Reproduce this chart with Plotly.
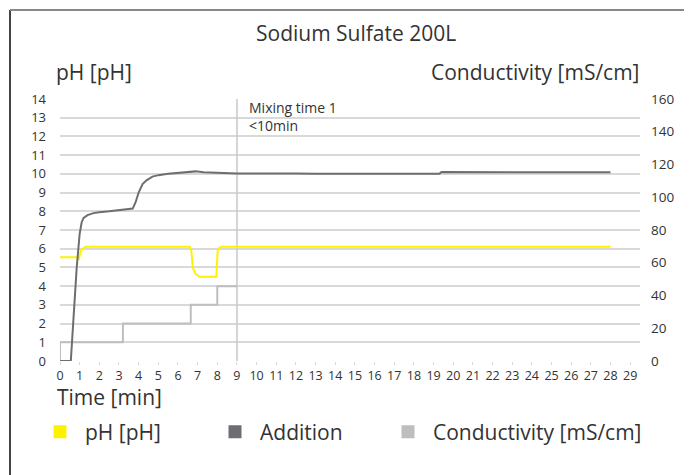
import plotly.graph_objects as go

# Colours
COLOR_YELLOW = "#FFF200"
COLOR_DARK = "#6D6E71"
COLOR_LIGHT = "#BCBEC0"
COLOR_GRID = "#D9D9D9"
COLOR_TEXT = "#333333"
FONT = "Open Sans"

# pH [pH] (left axis)
ph_time = [0, 0.9, 0.95, 1.05, 1.15, 1.3, 6.6, 6.68, 6.75, 6.9, 7.1, 7.95, 8.02, 8.1, 8.25, 28]
ph_value = [5.55, 5.55, 5.4, 5.85, 6.0, 6.1, 6.1, 5.9, 5.0, 4.65, 4.5, 4.5, 5.9, 6.05, 6.1, 6.1]

# Conductivity [mS/cm] (right axis, dark curve)
cond_time = [0, 0.55, 0.7, 0.85, 1.0, 1.1, 1.2, 1.4, 1.7, 2.0, 2.5, 3.0, 3.5, 3.7, 3.85,
             4.0, 4.2, 4.4, 4.7, 5.0, 5.5, 6.0, 6.5, 6.9, 7.3, 8.0, 9.0, 12.0, 13.0,
             19.3, 19.4, 28]
cond_value = [0, 0, 28.6, 57.1, 77.7, 84.6, 87.4, 89.1, 90.3, 90.9, 91.4, 92.0, 92.6, 93.1, 97.1,
              102.9, 108.0, 110.3, 112.6, 113.5, 114.3, 114.9, 115.4, 115.8, 115.2, 114.9, 114.5,
              114.5, 114.3, 114.3, 115.4, 115.2]

# Addition steps (left axis, light step line)
add_time = [0, 0, 3.2, 6.65, 8.0, 9.0]
add_value = [0, 1, 2, 3, 4, 4]

# Mixing time marker
mix_time = 9
mix_label = "Mixing time 1<br><10min"

legend_names = ["pH [pH]", "Addition", "Conductivity [mS/cm]"]
legend_colors = [COLOR_YELLOW, COLOR_DARK, COLOR_LIGHT]
legend_left = [35, 210, 383]   # window px where each legend entry starts

# page body has an 8px margin, so the figure is drawn 8px in from the window
OFF = 8
W, H = 692 - OFF, 475 - OFF
L, R, T, B = 52, 52, 91, 114
pw, ph = W - L - R, H - T - B


def px(x):
    # window pixel -> paper x
    return (x - OFF - L) / pw


def py(y):
    # window pixel -> paper y
    return (H - B - (y - OFF)) / ph


fig = go.Figure()

# mixing time vertical line
fig.add_trace(go.Scatter(
    x=[mix_time, mix_time], y=[0, 14], mode="lines",
    line=dict(color="#C8C8C8", width=1.5), showlegend=False, hoverinfo="skip"
))

fig.add_trace(go.Scatter(
    x=add_time, y=add_value, mode="lines", line_shape="hv",
    line=dict(color=COLOR_LIGHT, width=2), showlegend=False
))

fig.add_trace(go.Scatter(
    x=cond_time, y=cond_value, mode="lines", yaxis="y2",
    line=dict(color=COLOR_DARK, width=2), showlegend=False
))

fig.add_trace(go.Scatter(
    x=ph_time, y=ph_value, mode="lines",
    line=dict(color=COLOR_YELLOW, width=2), showlegend=False
))

# legend entries as square markers, one legend box each
legend_layout = {}
for i, (name, color, left) in enumerate(zip(legend_names, legend_colors, legend_left)):
    key = "legend" if i == 0 else f"legend{i + 1}"
    fig.add_trace(go.Scatter(
        x=[None], y=[None], mode="markers", name=name, legend=key,
        marker=dict(symbol="square", size=13, color=color)
    ))
    legend_layout[key] = dict(
        orientation="h", xref="container", yref="container",
        x=(left - OFF) / W, y=1 - (432 - OFF) / H, xanchor="left", yanchor="middle",
        itemwidth=40, font=dict(size=21, color=COLOR_TEXT, family=FONT),
        bgcolor="rgba(0,0,0,0)"
    )

fig.add_annotation(
    x=mix_time, y=14, xref="x", yref="y", text=mix_label,
    showarrow=False, xanchor="left", yanchor="top", align="left",
    xshift=10, yshift=3, font=dict(size=14, color=COLOR_TEXT, family=FONT)
)

for text, x, y, anchor in [
    ("Sodium Sulfate 200L", 356, 33, "center"),
    ("pH [pH]", 54, 72, "left"),
    ("Conductivity [mS/cm]", 641, 72, "right"),
    ("Time [min]", 55, 397, "left"),
]:
    fig.add_annotation(
        x=px(x), y=py(y), xref="paper", yref="paper", text=text,
        showarrow=False, xanchor=anchor, yanchor="middle",
        font=dict(size=21, color=COLOR_TEXT, family=FONT)
    )

# outer frame
fig.add_shape(type="line", xref="paper", yref="paper",
              x0=px(10), x1=px(10), y0=py(10), y1=py(480),
              line=dict(color="#444444", width=2))
fig.add_shape(type="line", xref="paper", yref="paper",
              x0=px(10), x1=px(700), y0=py(10), y1=py(10),
              line=dict(color="#888888", width=2))

fig.update_layout(
    width=W, height=H,
    margin=dict(l=L, r=R, t=T, b=B, autoexpand=False),
    paper_bgcolor="white", plot_bgcolor="white",
    font=dict(family=FONT, color=COLOR_TEXT),
    xaxis=dict(
        range=[0, 29.5], tickmode="linear", tick0=0, dtick=1,
        showgrid=False, zeroline=False, ticks="outside", ticklen=3,
        tickcolor=COLOR_GRID, tickfont=dict(size=12.5, color=COLOR_TEXT, family=FONT),
        automargin=False
    ),
    yaxis=dict(
        range=[0, 14], tickmode="linear", tick0=0, dtick=1,
        showgrid=True, gridcolor=COLOR_GRID, gridwidth=1.5, zeroline=False,
        tickfont=dict(size=13, color=COLOR_TEXT, family=FONT), ticklabelstandoff=13,
        automargin=False
    ),
    yaxis2=dict(
        range=[0, 160], tickmode="linear", tick0=0, dtick=20,
        overlaying="y", side="right", showgrid=False, zeroline=False,
        tickfont=dict(size=13.5, color=COLOR_TEXT, family=FONT), ticklabelstandoff=10,
        automargin=False
    ),
    showlegend=True,
    **legend_layout,
)

fig.write_html("out.html")
